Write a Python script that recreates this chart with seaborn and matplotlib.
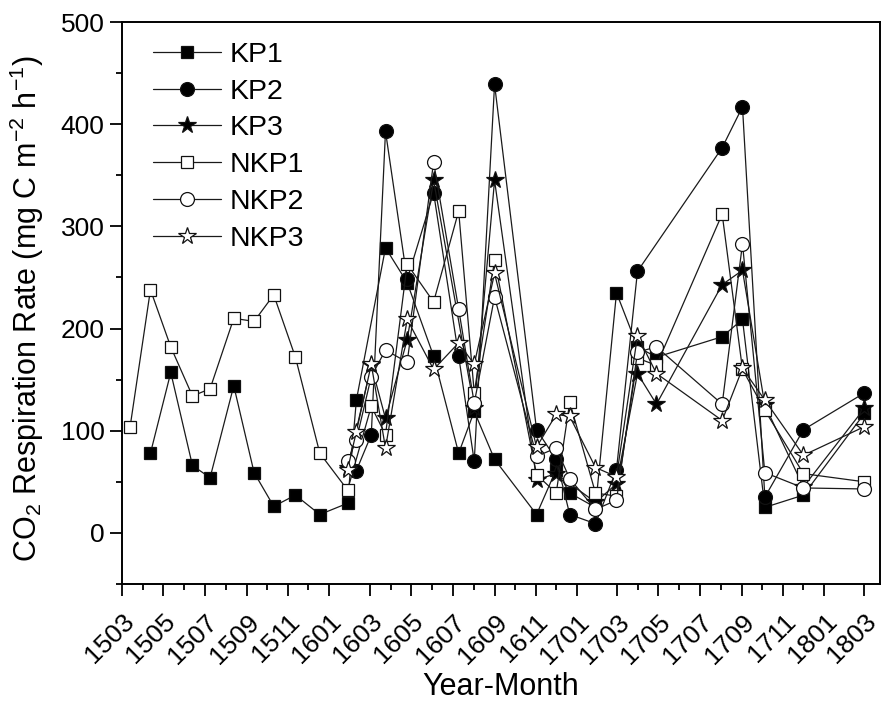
import numpy as np
import pandas as pd
import matplotlib
matplotlib.use("Agg")
import matplotlib.pyplot as plt
import matplotlib.dates as mdates
import seaborn as sns

# ---- data ----
dates = ["2015-03-13", "2015-04-12", "2015-05-12", "2015-06-13", "2015-07-09",
         "2015-08-13", "2015-09-12", "2015-10-11", "2015-11-12", "2015-12-18",
         "2016-01-28", "2016-02-10", "2016-03-03", "2016-03-24", "2016-04-25",
         "2016-06-03", "2016-07-10", "2016-08-02", "2016-09-01", "2016-11-02",
         "2016-12-01", "2016-12-21", "2017-01-28", "2017-02-28", "2017-03-31",
         "2017-04-28", "2017-08-03", "2017-09-02", "2017-10-05", "2017-12-01",
         "2018-03-01"]
N = None
KP1 = [N, 78, 157, 66, 54, 144, 59, 26, 37, 18, 29, 130, N, 279, 245, 173, 78, 119,
       72, 18, 62, 39, 25, 235, 182, 172, 192, 209, 25, 37, 117]
KP2 = [N, N, N, N, N, N, N, N, N, N, N, 61, 96, 393, 248, 333, 173, 70,
       439, 101, 72, 18, 9, 62, 256, N, 377, 417, 35, 101, 137]
KP3 = [N, N, N, N, N, N, N, N, N, N, 64, N, 164, 112, 189, 345, N, 122,
       345, 52, 58, N, 30, 48, 156, 126, 243, 257, 125, 45, 122]
NKP1 = [104, 238, 182, 134, 141, 210, 207, 233, 172, 78, 42, N, 124, 96, 263, 226, 315, 137,
        267, 57, 39, 128, 39, 36, 171, 164, 312, 160, 120, 58, 50]
NKP2 = [N, N, N, N, N, N, N, N, N, N, 70, 91, 153, 179, 167, 363, 219, 127,
        231, 75, 83, 53, 23, 32, 177, 182, 126, 283, 59, 44, 43]
NKP3 = [N, N, N, N, N, N, N, N, N, N, 62, 99, 165, 83, 209, 160, 186, 165,
        254, 84, 116, 114, 64, 55, 193, 156, 110, 161, 130, 76, 104]

series_names = ["KP1", "KP2", "KP3", "NKP1", "NKP2", "NKP3"]
series_vals = [KP1, KP2, KP3, NKP1, NKP2, NKP3]

df = pd.DataFrame({"date": pd.to_datetime(dates)})
for name, vals in zip(series_names, series_vals):
    df[name] = pd.Series(vals, dtype="float")
long = df.melt(id_vars="date", var_name="site", value_name="rate").dropna()

# ---- style ----
sns.set_style("ticks")
plt.rcParams["font.family"] = ["Liberation Sans", "DejaVu Sans"]
plt.rcParams["mathtext.fontset"] = "custom"
plt.rcParams["mathtext.rm"] = "Liberation Sans"
plt.rcParams["mathtext.it"] = "Liberation Sans:italic"
plt.rcParams["mathtext.bf"] = "Liberation Sans:bold"
for k in ["text.color", "axes.labelcolor", "xtick.color", "ytick.color", "axes.edgecolor"]:
    plt.rcParams[k] = "black"

styles = {
    "KP1":  dict(marker="s", mfc="black", ms=9),
    "KP2":  dict(marker="o", mfc="black", ms=10),
    "KP3":  dict(marker="*", mfc="black", ms=13),
    "NKP1": dict(marker="s", mfc="white", ms=9),
    "NKP2": dict(marker="o", mfc="white", ms=10),
    "NKP3": dict(marker="*", mfc="white", ms=13),
}

fig = plt.figure(figsize=(8.83, 7.06), dpi=100)
ax = fig.add_axes([122 / 883, 1 - 584 / 706, (880 - 122) / 883, (584 - 22) / 706])

for name in series_names:
    sub = long[long["site"] == name]
    st = styles[name]
    sns.lineplot(data=sub, x="date", y="rate", ax=ax, color="#1a1a1a", lw=0.9,
                 marker=st["marker"], markersize=st["ms"], markerfacecolor=st["mfc"],
                 markeredgecolor="#111111", markeredgewidth=0.9, label=name,
                 estimator=None, sort=True)

ax.set_ylim(-50, 500)
ax.set_yticks([0, 100, 200, 300, 400, 500])
ax.set_yticks(np.arange(-50, 501, 50), minor=True)
ax.set_xlim(pd.Timestamp("2015-03-01"), pd.Timestamp("2018-03-24"))
ax.xaxis.set_major_locator(mdates.MonthLocator(bymonth=[1, 3, 5, 7, 9, 11]))
ax.xaxis.set_minor_locator(mdates.MonthLocator(bymonth=[4, 6, 8, 10, 12]))
ax.xaxis.set_major_formatter(mdates.DateFormatter("%y%m"))

for s in ax.spines.values():
    s.set_linewidth(1.4)
    s.set_color("black")
ax.tick_params(axis="both", which="major", direction="out", length=8.5, width=1.3,
               labelsize=19, colors="black", pad=4)
ax.tick_params(axis="both", which="minor", direction="out", length=4.5, width=1.3)
ax.tick_params(axis="x", which="major", pad=10)
ax.tick_params(top=False, right=False)
for lab in ax.get_xticklabels():
    lab.set_rotation(45)
    lab.set_ha("right")
    lab.set_rotation_mode("anchor")

ax.set_xlabel("Year-Month", fontsize=22, labelpad=3)
ax.set_ylabel(r"CO$_2$ Respiration Rate (mg C m$^{-2}$ h$^{-1}$)", fontsize=22)
ax.yaxis.set_label_coords(-0.10, 0.49)

leg = ax.legend(loc="upper left", bbox_to_anchor=(0.026, 0.985), frameon=False,
                fontsize=20.5, handlelength=2.4, handletextpad=0.28, labelspacing=0.38,
                borderaxespad=0.0)
for h in leg.legend_handles:
    h.set_linewidth(0.9)

fig.savefig("out.png", dpi=100)
